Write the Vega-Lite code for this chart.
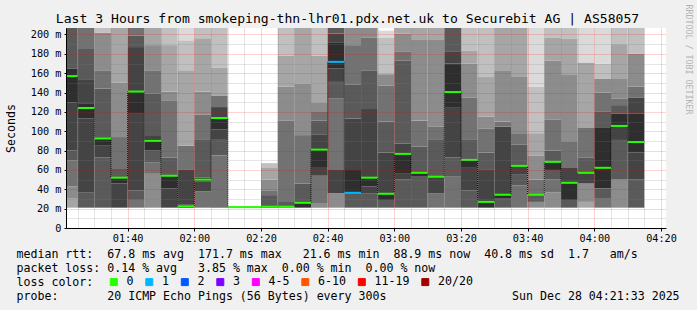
{
"$schema":"https://vega.github.io/schema/vega-lite/v6.json",
"width":600,"height":200,
"autosize":{"type":"none"},
"padding":{"left":66,"top":28,"right":31,"bottom":82},
"background":"#f0f0f0",
"config":{"view":{"fill":"white","stroke":null}},
"title":{"text":"Last 3 Hours from smokeping-thn-lhr01.pdx.net.uk to Securebit AG | AS58057","font":"DejaVu Sans Mono","fontSize":13.1,"fontWeight":"normal","color":"black","anchor":"middle","frame":"group","dx":-18.5,"dy":37,"offset":4.5,"baseline":"alphabetic"},
"datasets":{
"bars":[
{"t":80,"e":85,"med":157,"loss":"0"},
{"t":85,"e":90,"med":124,"loss":"0"},
{"t":90,"e":95,"med":92.5,"loss":"0"},
{"t":95,"e":100,"med":52,"loss":"0"},
{"t":100,"e":105,"med":141,"loss":"0"},
{"t":105,"e":110,"med":90,"loss":"0"},
{"t":110,"e":115,"med":54,"loss":"0"},
{"t":115,"e":120,"med":22.5,"loss":"0"},
{"t":120,"e":125,"med":50,"loss":"0"},
{"t":125,"e":130,"med":113.7,"loss":"0"},
{"t":130,"e":135,"med":21.6,"loss":"0"},
{"t":135,"e":140,"med":21.6,"loss":"0"},
{"t":140,"e":145,"med":22,"loss":"0"},
{"t":145,"e":150,"med":22,"loss":"0"},
{"t":150,"e":155,"med":26,"loss":"0"},
{"t":155,"e":160,"med":81,"loss":"0"},
{"t":160,"e":165,"med":171.7,"loss":"1"},
{"t":165,"e":170,"med":36.4,"loss":"1"},
{"t":170,"e":175,"med":52,"loss":"0"},
{"t":175,"e":180,"med":35.4,"loss":"0"},
{"t":180,"e":185,"med":76.6,"loss":"0"},
{"t":185,"e":190,"med":57,"loss":"0"},
{"t":190,"e":195,"med":53,"loss":"0"},
{"t":195,"e":200,"med":140.5,"loss":"0"},
{"t":200,"e":205,"med":70.4,"loss":"0"},
{"t":205,"e":210,"med":27,"loss":"0"},
{"t":210,"e":215,"med":34.4,"loss":"0"},
{"t":215,"e":220,"med":64.2,"loss":"0"},
{"t":220,"e":225,"med":34.4,"loss":"0"},
{"t":225,"e":230,"med":68.4,"loss":"0"},
{"t":230,"e":235,"med":46.7,"loss":"0"},
{"t":235,"e":240,"med":57,"loss":"0"},
{"t":240,"e":245,"med":62.2,"loss":"0"},
{"t":245,"e":250,"med":105.5,"loss":"0"},
{"t":250,"e":255,"med":88.9,"loss":"0"}
],
"smoke":[
{"t":80,"e":85,"lo":21,"hi":31,"b":3},{"t":80,"e":85,"lo":31,"hi":43,"b":4},{"t":80,"e":85,"lo":43,"hi":70,"b":5},{"t":80,"e":85,"lo":70,"hi":80,"b":6},{"t":80,"e":85,"lo":80,"hi":130,"b":7},{"t":80,"e":85,"lo":130,"hi":165,"b":8},{"t":80,"e":85,"lo":165,"hi":215,"b":6},
{"t":85,"e":90,"lo":21,"hi":37,"b":6},{"t":85,"e":90,"lo":37,"hi":113,"b":7},{"t":85,"e":90,"lo":113,"hi":129,"b":8},{"t":85,"e":90,"lo":129,"hi":153,"b":7},{"t":85,"e":90,"lo":153,"hi":185,"b":6},{"t":85,"e":90,"lo":185,"hi":215,"b":5},
{"t":90,"e":95,"lo":21,"hi":73,"b":6},{"t":90,"e":95,"lo":73,"hi":85,"b":7},{"t":90,"e":95,"lo":85,"hi":92,"b":8},{"t":90,"e":95,"lo":92,"hi":144,"b":6},{"t":90,"e":95,"lo":144,"hi":163,"b":5},{"t":90,"e":95,"lo":163,"hi":202,"b":4},{"t":90,"e":95,"lo":202,"hi":215,"b":2},
{"t":95,"e":100,"lo":21,"hi":46,"b":7},{"t":95,"e":100,"lo":46,"hi":52,"b":8},{"t":95,"e":100,"lo":52,"hi":61,"b":6},{"t":95,"e":100,"lo":61,"hi":94,"b":5},{"t":95,"e":100,"lo":94,"hi":150,"b":4},{"t":95,"e":100,"lo":150,"hi":215,"b":3},
{"t":100,"e":105,"lo":21,"hi":29,"b":5},{"t":100,"e":105,"lo":29,"hi":39,"b":6},{"t":100,"e":105,"lo":39,"hi":118,"b":7},{"t":100,"e":105,"lo":118,"hi":141,"b":8},{"t":100,"e":105,"lo":141,"hi":187,"b":7},{"t":100,"e":105,"lo":187,"hi":199,"b":6},{"t":100,"e":105,"lo":199,"hi":215,"b":5},
{"t":105,"e":110,"lo":21,"hi":56,"b":4},{"t":105,"e":110,"lo":56,"hi":68,"b":5},{"t":105,"e":110,"lo":68,"hi":80,"b":6},{"t":105,"e":110,"lo":80,"hi":90,"b":8},{"t":105,"e":110,"lo":90,"hi":96,"b":7},{"t":105,"e":110,"lo":96,"hi":139,"b":6},{"t":105,"e":110,"lo":139,"hi":163,"b":5},{"t":105,"e":110,"lo":163,"hi":189,"b":4},{"t":105,"e":110,"lo":189,"hi":215,"b":3},
{"t":110,"e":115,"lo":21,"hi":41,"b":7},{"t":110,"e":115,"lo":41,"hi":54,"b":8},{"t":110,"e":115,"lo":54,"hi":73,"b":6},{"t":110,"e":115,"lo":73,"hi":132,"b":5},{"t":110,"e":115,"lo":132,"hi":141,"b":4},{"t":110,"e":115,"lo":141,"hi":189,"b":3},{"t":110,"e":115,"lo":189,"hi":215,"b":2},
{"t":115,"e":120,"lo":21,"hi":24,"b":8},{"t":115,"e":120,"lo":24,"hi":60,"b":7},{"t":115,"e":120,"lo":60,"hi":85,"b":5},{"t":115,"e":120,"lo":85,"hi":163,"b":3},{"t":115,"e":120,"lo":163,"hi":194,"b":2},{"t":115,"e":120,"lo":194,"hi":215,"b":1},
{"t":120,"e":125,"lo":21,"hi":38,"b":5},{"t":120,"e":125,"lo":38,"hi":48,"b":7},{"t":120,"e":125,"lo":48,"hi":52,"b":8},{"t":120,"e":125,"lo":52,"hi":91,"b":6},{"t":120,"e":125,"lo":91,"hi":117,"b":5},{"t":120,"e":125,"lo":117,"hi":141,"b":4},{"t":120,"e":125,"lo":141,"hi":196,"b":3},{"t":120,"e":125,"lo":196,"hi":215,"b":2},
{"t":125,"e":130,"lo":21,"hi":75,"b":5},{"t":125,"e":130,"lo":75,"hi":92,"b":6},{"t":125,"e":130,"lo":92,"hi":102,"b":7},{"t":125,"e":130,"lo":102,"hi":114,"b":8},{"t":125,"e":130,"lo":114,"hi":125,"b":7},{"t":125,"e":130,"lo":125,"hi":137,"b":5},{"t":125,"e":130,"lo":137,"hi":166,"b":3},{"t":125,"e":130,"lo":166,"hi":215,"b":2},
{"t":140,"e":145,"lo":21,"hi":22,"b":8},{"t":140,"e":145,"lo":22,"hi":34,"b":6},{"t":140,"e":145,"lo":34,"hi":39,"b":5},{"t":140,"e":145,"lo":39,"hi":50,"b":4},{"t":140,"e":145,"lo":50,"hi":62,"b":3},{"t":140,"e":145,"lo":62,"hi":67,"b":2},
{"t":145,"e":150,"lo":21,"hi":27,"b":6},{"t":145,"e":150,"lo":27,"hi":111,"b":5},{"t":145,"e":150,"lo":111,"hi":146,"b":4},{"t":145,"e":150,"lo":146,"hi":178,"b":3},{"t":145,"e":150,"lo":178,"hi":215,"b":2},
{"t":150,"e":155,"lo":21,"hi":26,"b":8},{"t":150,"e":155,"lo":26,"hi":46,"b":6},{"t":150,"e":155,"lo":46,"hi":96,"b":5},{"t":150,"e":155,"lo":96,"hi":149,"b":4},{"t":150,"e":155,"lo":149,"hi":215,"b":3},
{"t":155,"e":160,"lo":21,"hi":25,"b":4},{"t":155,"e":160,"lo":25,"hi":54,"b":5},{"t":155,"e":160,"lo":54,"hi":63,"b":7},{"t":155,"e":160,"lo":63,"hi":81,"b":8},{"t":155,"e":160,"lo":81,"hi":97,"b":7},{"t":155,"e":160,"lo":97,"hi":111,"b":6},{"t":155,"e":160,"lo":111,"hi":120,"b":5},{"t":155,"e":160,"lo":120,"hi":130,"b":4},{"t":155,"e":160,"lo":130,"hi":178,"b":3},{"t":155,"e":160,"lo":178,"hi":215,"b":2},
{"t":160,"e":165,"lo":21,"hi":36,"b":4},{"t":160,"e":165,"lo":36,"hi":60,"b":7},{"t":160,"e":165,"lo":60,"hi":134,"b":5},{"t":160,"e":165,"lo":134,"hi":151,"b":6},{"t":160,"e":165,"lo":151,"hi":165,"b":7},{"t":160,"e":165,"lo":165,"hi":192,"b":8},{"t":160,"e":165,"lo":192,"hi":201,"b":7},{"t":160,"e":165,"lo":201,"hi":215,"b":6},
{"t":165,"e":170,"lo":21,"hi":36,"b":6},{"t":165,"e":170,"lo":36,"hi":60,"b":8},{"t":165,"e":170,"lo":60,"hi":113,"b":7},{"t":165,"e":170,"lo":113,"hi":148,"b":6},{"t":165,"e":170,"lo":148,"hi":189,"b":5},{"t":165,"e":170,"lo":189,"hi":215,"b":4},
{"t":170,"e":175,"lo":21,"hi":36,"b":6},{"t":170,"e":175,"lo":36,"hi":43,"b":7},{"t":170,"e":175,"lo":43,"hi":52,"b":8},{"t":170,"e":175,"lo":52,"hi":123,"b":7},{"t":170,"e":175,"lo":123,"hi":163,"b":6},{"t":170,"e":175,"lo":163,"hi":197,"b":5},{"t":170,"e":175,"lo":197,"hi":215,"b":4},
{"t":175,"e":180,"lo":21,"hi":29,"b":6},{"t":175,"e":180,"lo":29,"hi":35,"b":8},{"t":175,"e":180,"lo":35,"hi":78,"b":7},{"t":175,"e":180,"lo":78,"hi":110,"b":6},{"t":175,"e":180,"lo":110,"hi":147,"b":5},{"t":175,"e":180,"lo":147,"hi":159,"b":4},{"t":175,"e":180,"lo":159,"hi":197,"b":2},{"t":175,"e":180,"lo":197,"hi":204,"b":1},
{"t":180,"e":185,"lo":21,"hi":50,"b":6},{"t":180,"e":185,"lo":50,"hi":56,"b":7},{"t":180,"e":185,"lo":56,"hi":77,"b":8},{"t":180,"e":185,"lo":77,"hi":87,"b":7},{"t":180,"e":185,"lo":87,"hi":173,"b":6},{"t":180,"e":185,"lo":173,"hi":182,"b":5},{"t":180,"e":185,"lo":182,"hi":201,"b":4},{"t":180,"e":185,"lo":201,"hi":215,"b":3},
{"t":185,"e":190,"lo":21,"hi":53,"b":6},{"t":185,"e":190,"lo":53,"hi":57,"b":8},{"t":185,"e":190,"lo":57,"hi":84,"b":6},{"t":185,"e":190,"lo":84,"hi":111,"b":5},{"t":185,"e":190,"lo":111,"hi":195,"b":4},{"t":185,"e":190,"lo":195,"hi":215,"b":3},
{"t":190,"e":195,"lo":21,"hi":36,"b":5},{"t":190,"e":195,"lo":36,"hi":53,"b":7},{"t":190,"e":195,"lo":53,"hi":91,"b":6},{"t":190,"e":195,"lo":91,"hi":105,"b":5},{"t":190,"e":195,"lo":105,"hi":195,"b":4},{"t":190,"e":195,"lo":195,"hi":215,"b":3},
{"t":195,"e":200,"lo":21,"hi":53,"b":5},{"t":195,"e":200,"lo":53,"hi":73,"b":6},{"t":195,"e":200,"lo":73,"hi":125,"b":7},{"t":195,"e":200,"lo":125,"hi":170,"b":8},{"t":195,"e":200,"lo":170,"hi":182,"b":7},{"t":195,"e":200,"lo":182,"hi":215,"b":6},
{"t":200,"e":205,"lo":21,"hi":39,"b":6},{"t":200,"e":205,"lo":39,"hi":63,"b":7},{"t":200,"e":205,"lo":63,"hi":70,"b":8},{"t":200,"e":205,"lo":70,"hi":91,"b":6},{"t":200,"e":205,"lo":91,"hi":135,"b":5},{"t":200,"e":205,"lo":135,"hi":170,"b":4},{"t":200,"e":205,"lo":170,"hi":183,"b":3},{"t":200,"e":205,"lo":183,"hi":215,"b":2},
{"t":205,"e":210,"lo":21,"hi":27,"b":8},{"t":205,"e":210,"lo":27,"hi":60,"b":7},{"t":205,"e":210,"lo":60,"hi":78,"b":6},{"t":205,"e":210,"lo":78,"hi":103,"b":5},{"t":205,"e":210,"lo":103,"hi":115,"b":4},{"t":205,"e":210,"lo":115,"hi":156,"b":3},{"t":205,"e":210,"lo":156,"hi":215,"b":2},
{"t":210,"e":215,"lo":21,"hi":31,"b":6},{"t":210,"e":215,"lo":31,"hi":34,"b":8},{"t":210,"e":215,"lo":34,"hi":105,"b":7},{"t":210,"e":215,"lo":105,"hi":110,"b":5},{"t":210,"e":215,"lo":110,"hi":163,"b":4},{"t":210,"e":215,"lo":163,"hi":215,"b":3},
{"t":215,"e":220,"lo":21,"hi":44,"b":5},{"t":215,"e":220,"lo":44,"hi":55,"b":6},{"t":215,"e":220,"lo":55,"hi":64,"b":7},{"t":215,"e":220,"lo":64,"hi":86,"b":6},{"t":215,"e":220,"lo":86,"hi":98,"b":5},{"t":215,"e":220,"lo":98,"hi":156,"b":4},{"t":215,"e":220,"lo":156,"hi":215,"b":3},
{"t":220,"e":225,"lo":21,"hi":27,"b":4},{"t":220,"e":225,"lo":27,"hi":34,"b":6},{"t":220,"e":225,"lo":34,"hi":50,"b":5},{"t":220,"e":225,"lo":50,"hi":75,"b":4},{"t":220,"e":225,"lo":75,"hi":98,"b":3},{"t":220,"e":225,"lo":98,"hi":146,"b":2},{"t":220,"e":225,"lo":146,"hi":215,"b":1},
{"t":225,"e":230,"lo":21,"hi":37,"b":4},{"t":225,"e":230,"lo":37,"hi":50,"b":5},{"t":225,"e":230,"lo":50,"hi":60,"b":6},{"t":225,"e":230,"lo":60,"hi":68,"b":8},{"t":225,"e":230,"lo":68,"hi":80,"b":6},{"t":225,"e":230,"lo":80,"hi":112,"b":5},{"t":225,"e":230,"lo":112,"hi":173,"b":4},{"t":225,"e":230,"lo":173,"hi":197,"b":3},{"t":225,"e":230,"lo":197,"hi":215,"b":2},
{"t":230,"e":235,"lo":21,"hi":29,"b":6},{"t":230,"e":235,"lo":29,"hi":47,"b":8},{"t":230,"e":235,"lo":47,"hi":62,"b":7},{"t":230,"e":235,"lo":62,"hi":89,"b":5},{"t":230,"e":235,"lo":89,"hi":158,"b":4},{"t":230,"e":235,"lo":158,"hi":196,"b":3},{"t":230,"e":235,"lo":196,"hi":215,"b":2},
{"t":235,"e":240,"lo":21,"hi":27,"b":3},{"t":235,"e":240,"lo":27,"hi":46,"b":4},{"t":235,"e":240,"lo":46,"hi":57,"b":7},{"t":235,"e":240,"lo":57,"hi":73,"b":6},{"t":235,"e":240,"lo":73,"hi":104,"b":5},{"t":235,"e":240,"lo":104,"hi":171,"b":3},{"t":235,"e":240,"lo":171,"hi":215,"b":1},
{"t":240,"e":245,"lo":21,"hi":31,"b":5},{"t":240,"e":245,"lo":31,"hi":41,"b":6},{"t":240,"e":245,"lo":41,"hi":104,"b":8},{"t":240,"e":245,"lo":104,"hi":120,"b":6},{"t":240,"e":245,"lo":120,"hi":140,"b":5},{"t":240,"e":245,"lo":140,"hi":154,"b":4},{"t":240,"e":245,"lo":154,"hi":170,"b":2},{"t":240,"e":245,"lo":170,"hi":215,"b":1},
{"t":245,"e":250,"lo":21,"hi":50,"b":4},{"t":245,"e":250,"lo":50,"hi":91,"b":6},{"t":245,"e":250,"lo":91,"hi":105,"b":7},{"t":245,"e":250,"lo":105,"hi":118,"b":8},{"t":245,"e":250,"lo":118,"hi":127,"b":6},{"t":245,"e":250,"lo":127,"hi":134,"b":5},{"t":245,"e":250,"lo":134,"hi":154,"b":4},{"t":245,"e":250,"lo":154,"hi":190,"b":3},{"t":245,"e":250,"lo":190,"hi":215,"b":2},
{"t":250,"e":255,"lo":21,"hi":50,"b":6},{"t":250,"e":255,"lo":50,"hi":78,"b":7},{"t":250,"e":255,"lo":78,"hi":118,"b":8},{"t":250,"e":255,"lo":118,"hi":135,"b":7},{"t":250,"e":255,"lo":135,"hi":146,"b":5},{"t":250,"e":255,"lo":146,"hi":180,"b":4},{"t":250,"e":255,"lo":180,"hi":215,"b":2}
]
},
"encoding":{
"x":{"field":"t","type":"quantitative",
"scale":{"domain":[81.5,261.5],"nice":false,"zero":false},
"axis":{"values":[85,90,95,100,105,110,115,120,125,130,135,140,145,150,155,160,165,170,175,180,185,190,195,200,205,210,215,220,225,230,235,240,245,250,255,260],
"labelExpr":"datum.value % 20 === 0 ? ('0' + floor(datum.value / 60) + ':' + (datum.value % 60 < 10 ? '0' : '') + (datum.value % 60)) : ''",
"labelOverlap":false,"labelFlush":false,"labelFont":"DejaVu Sans Mono","labelFontSize":10.2,"labelColor":"black","labelPadding":2,
"tickSize":3,"tickColor":{"condition":{"test":"datum.value % 20 === 0","value":"black"},"value":"transparent"},
"grid":true,"gridColor":{"condition":{"test":"datum.value % 20 === 0","value":"rgba(255,0,0,0.35)"},"value":"rgba(128,128,128,0.4)"},"gridDash":[1,1],
"domainColor":"black","zindex":1,
"title":["median\u00a0rtt:\u00a0\u00a067.8\u00a0ms\u00a0avg\u00a0\u00a0171.7\u00a0ms\u00a0max\u00a0\u00a0\u00a021.6\u00a0ms\u00a0min\u00a0\u00a088.9\u00a0ms\u00a0now\u00a0\u00a040.8\u00a0ms\u00a0sd\u00a0\u00a01.7\u00a0\u00a0\u00a0am/s",
"packet\u00a0loss:\u00a00.14\u00a0%\u00a0avg\u00a0\u00a0\u00a03.85\u00a0%\u00a0max\u00a0\u00a00.00\u00a0%\u00a0min\u00a0\u00a00.00\u00a0%\u00a0now",
"loss\u00a0color:",
"probe:\u00a0\u00a0\u00a0\u00a0\u00a0\u00a0\u00a020\u00a0ICMP\u00a0Echo\u00a0Pings\u00a0(56\u00a0Bytes)\u00a0every\u00a0300s\u00a0\u00a0\u00a0\u00a0\u00a0\u00a0\u00a0\u00a0\u00a0\u00a0\u00a0\u00a0\u00a0\u00a0\u00a0\u00a0\u00a0\u00a0Sun\u00a0Dec\u00a028\u00a004:21:33\u00a02025"],
"titleAnchor":"start","titleAlign":"left","titleX":-50,"titleY":29.8,"titleBaseline":"alphabetic","titleFont":"DejaVu Sans Mono","titleFontSize":11.6,"titleFontWeight":"normal","titleColor":"black","titleLineHeight":13.9,"titleLimit":2000}
}
},
"layer":[
{"data":{"name":"smoke"},
"mark":{"type":"rect","clip":true},
"encoding":{
"x2":{"field":"e"},
"y":{"field":"lo","type":"quantitative","scale":{"domain":[0,206.7],"nice":false,"zero":false},
"axis":{"values":[0,10,20,30,40,50,60,70,80,90,100,110,120,130,140,150,160,170,180,190,200],
"labelExpr":"datum.value % 20 !== 0 ? '' : (datum.value === 0 ? '0\u00a0\u00a0' : datum.value + '\u00a0m')",
"labelOverlap":false,"labelFont":"DejaVu Sans Mono","labelFontSize":10.2,"labelColor":"black","labelPadding":3,
"tickSize":2,"tickColor":{"condition":{"test":"datum.value % 20 === 0","value":"black"},"value":"transparent"},
"grid":true,"gridColor":{"condition":{"test":"datum.value % 20 === 0","value":"rgba(255,0,0,0.35)"},"value":"rgba(128,128,128,0.4)"},"gridDash":[1,1],
"domainColor":"black","zindex":1,
"title":"Seconds","titleFont":"DejaVu Sans Mono","titleFontSize":11.6,"titleFontWeight":"normal","titleColor":"black","titleX":-55,"titleY":100,"titleAlign":"center","titleBaseline":"middle","titleAngle":-90}},
"y2":{"field":"hi"},
"fill":{"field":"b","type":"ordinal","scale":{"domain":[1,2,3,4,5,6,7,8],"range":["#dadada","#c0c0c0","#a6a6a6","#8c8c8c","#727272","#5a5a5a","#444444","#2e2e2e"]},"legend":null}
}},
{"data":{"name":"bars"},
"mark":{"type":"line","interpolate":"step-after","color":"black","strokeWidth":1,"strokeDash":[1,1],"clip":true},
"encoding":{"y":{"field":"med","type":"quantitative","axis":null}}},
{"data":{"name":"bars"},
"mark":{"type":"rule","strokeWidth":2,"clip":true},
"encoding":{
"x2":{"field":"e"},
"y":{"field":"med","type":"quantitative",
"axis":{"orient":"right","title":"RRDTOOL / TOBI OETIKER","labels":false,"ticks":false,"domain":false,"grid":false,"titleAngle":90,"titleX":21.5,"titleY":-24,"titleAlign":"left","titleBaseline":"middle","titleFont":"DejaVu Sans Mono","titleFontSize":8.3,"titleColor":"#b4b4b4","titleFontWeight":"normal"}},
"color":{"field":"loss","type":"nominal",
"scale":{"domain":["0","1","2","3","4-5","6-10","11-19","20/20"],"range":["#26ff00","#00b8ff","#0059ff","#7e00ff","#ff00ff","#ff5500","#ff0000","#a10000"]},
"legend":{"orient":"none","legendX":42,"legendY":248,"direction":"horizontal","columns":8,"symbolType":"square","symbolSize":49,"symbolStrokeWidth":1,"symbolStrokeColor":"black",
"labelFont":"DejaVu Sans Mono","labelFontSize":11.6,"labelColor":"black","labelOffset":7,"columnPadding":9.5,
"title":null,"padding":0,
"encode":{"symbols":{"update":{"fill":{"scale":"color","field":"value"},"stroke":{"value":"black"},"strokeWidth":{"value":1},"opacity":{"value":1}}}}}}
}}
],
"resolve":{"axis":{"y":"independent"}}
}
